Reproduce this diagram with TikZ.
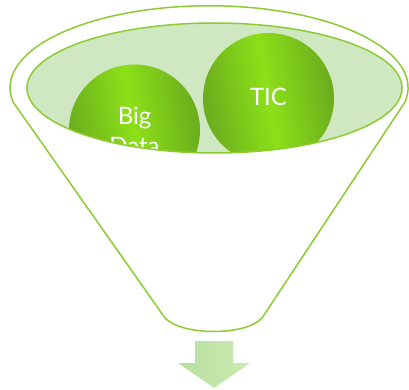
\documentclass[tikz,border=0pt]{standalone}
\usepackage{fontspec}
\setmainfont{Lato}
\definecolor{fgreen}{RGB}{140,204,50}
\definecolor{lgreen}{RGB}{207,232,193}
\definecolor{bgreen}{RGB}{140,224,24}
\definecolor{dgreen}{RGB}{106,172,30}
\definecolor{agreenA}{RGB}{184,222,160}
\definecolor{agreenB}{RGB}{202,236,178}
\tikzset{
  funnel/.style={draw=fgreen, line width=1.5pt, fill=white, line join=round},
  inner/.style={draw=fgreen, line width=1.5pt},
  ball/.style={left color=dgreen, right color=dgreen, middle color=bgreen, shading angle=100},
  txt/.style={text=white, font=\fontsize{24}{30}\selectfont, align=center, inner sep=0pt}
}
\begin{document}
\begin{tikzpicture}[x=1pt,y=1pt,yscale=-1]
\useasboundingbox (0,0) rectangle (409,390);
% outer funnel
\draw[funnel] (13,102) -- (165,318) .. controls (182,336) and (246,336) .. (262,318)
  -- (405,102) arc[start angle=10, end angle=-190, x radius=199, y radius=82] -- cycle;
% inner ellipse
\fill[lgreen] (214.5,88) ellipse[x radius=187.5, y radius=65];
\begin{scope}
  \clip (214.5,88) ellipse[x radius=187.5, y radius=65];
  \shade[ball] (134.5,130) circle[radius=65.5];
  \shade[ball] (268.5,98.5) circle[radius=65.5];
  \node[txt] (big) at (134.5,131) {Big\\Data};
  \node[txt] (tic) at (268.5,97) {TIC};
\end{scope}
\draw[inner] (214.5,88) ellipse[x radius=187.5, y radius=65];
% arrow
\shade[left color=agreenA, right color=agreenB]
  (195,341) -- (233,341) -- (233,363) -- (250,363) -- (214,388) -- (178,363) -- (195,363) -- cycle;
\end{tikzpicture}
\end{document}
